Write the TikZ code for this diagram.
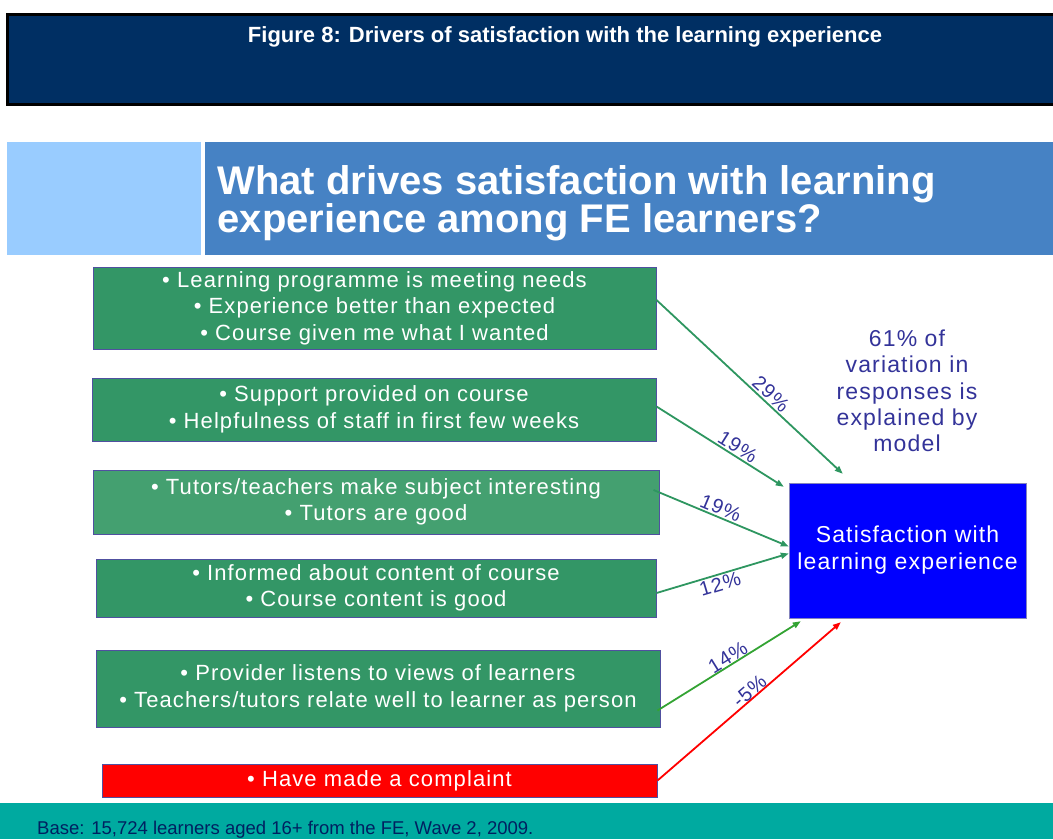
\documentclass[tikz,border=0pt]{standalone}
\usepackage{fontspec}
\setmainfont{Liberation Sans}
\newfontfamily\spacedfont[LetterSpace=5]{Liberation Sans}
\usetikzlibrary{calc,arrows.meta}
\definecolor{navy}{RGB}{0,47,99}
\definecolor{paleblue}{RGB}{153,204,255}
\definecolor{headblue}{RGB}{70,130,196}
\definecolor{drvgreen}{RGB}{51,150,102}
\definecolor{drvgreenlt}{RGB}{68,160,112}
\definecolor{boxline}{RGB}{80,80,160}
\definecolor{arrgreen}{RGB}{46,150,96}
\definecolor{pcttext}{RGB}{51,51,153}
\definecolor{satblue}{RGB}{0,0,255}
\definecolor{baseteal}{RGB}{0,170,160}
\definecolor{basetext}{RGB}{0,32,96}
\tikzset{
  drvbox/.style={draw=boxline, line width=1pt, fill=drvgreen, text=white, align=center,
    inner sep=0pt, font=\spacedfont\fontsize{22}{26.5}\selectfont},
  drvarrow/.style={draw=arrgreen, line width=1.8pt, -{Triangle[length=8pt,width=6pt]}},
  pct/.style={text=pcttext, font=\spacedfont\fontsize{20}{22}\selectfont, sloped, inner sep=1.5pt},
}

\begin{document}
\begin{tikzpicture}[x=1pt,y=-1pt]
			%%%%% START %%%%%
			\useasboundingbox (0,0) rectangle (1053,839);
			
			% banners
			\draw[line width=3pt, fill=navy] (7,14) rectangle (1060,104);
			\node[text=white, font=\bfseries\fontsize{22}{26}\selectfont] (fig) at (565,37) {Figure 8: Drivers of satisfaction with the learning experience};
			
			\fill[paleblue] (7,142) rectangle (201,255);
			\fill[headblue] (205,142) rectangle (1053,255);
			\node[anchor=west, align=left, text=white, font=\bfseries\fontsize{40}{38}\selectfont] (head) at (214,203)
			  {What drives satisfaction with learning\\experience among FE learners?};
			
			\fill[baseteal] (0,803) rectangle (1053,839);
			\node[anchor=base west, text=basetext, font=\fontsize{18.5}{20}\selectfont, inner sep=0pt] (base) at (37,834)
			  {Base: 15,724 learners aged 16+ from the FE, Wave 2, 2009.};
			
			% driver boxes
			\node[drvbox, minimum width=563pt, minimum height=82pt] (needs) at (374.5,308)
			  {• Learning programme is meeting needs\\• Experience better than expected\\• Course given me what I wanted};
			\node[drvbox, minimum width=564pt, minimum height=63pt] (support) at (374,409.5)
			  {• Support provided on course\\• Helpfulness of staff in first few weeks};
			\node[drvbox, fill=drvgreenlt, minimum width=566pt, minimum height=64pt] (tutors) at (376,502)
			  {• Tutors/teachers make subject interesting\\• Tutors are good};
			\node[drvbox, minimum width=560pt, minimum height=58pt] (content) at (376,588)
			  {• Informed about content of course\\• Course content is good};
			\node[drvbox, minimum width=564pt, minimum height=77pt] (views) at (378,688.5)
			  {• Provider listens to views of learners\\• Teachers/tutors relate well to learner as person};
			\node[drvbox, fill=red, minimum width=555pt, minimum height=33pt] (complaint) at (379.5,780.5)
			  {• Have made a complaint};
			
			% outcome
			\node[draw=boxline!70, fill=satblue, text=white, align=center, inner sep=0pt,
			  minimum width=237pt, minimum height=135pt, font=\spacedfont\fontsize{23}{27}\selectfont] (satis) at (907.5,550.5)
			  {Satisfaction with\\learning experience};
			\node[text=pcttext, align=center, font=\spacedfont\fontsize{23}{26.3}\selectfont] (model) at (907,391)
			  {61\% of\\variation in\\responses is\\explained by\\model};
			
			% paths
			\draw[drvarrow] ($(needs.east)+(0,-8)$) -- node[pct, above, pos=0.58] {29\%} ($(satis.north west)+(54,-9)$);
			\draw[drvarrow] ($(support.east)+(0,-3)$) -- node[pct, above, pos=0.6] {19\%} ($(satis.north west)+(-5,4)$);
			\draw[drvarrow] ($(tutors.east)+(-6,-12)$) -- node[pct, above, pos=0.47] {19\%} ($(satis.west)+(0,-4)$);
			\draw[drvarrow] ($(content.east)+(0,5)$) -- node[pct, below, pos=0.46] {12\%} ($(satis.west)+(0,3)$);
			\draw[drvarrow, draw=green!55!black!80] ($(views.east)+(-3,22)$) -- node[pct, above, pos=0.52, inner sep=0pt] {14\%} ($(satis.south west)+(12,3)$);
			\draw[drvarrow, draw=red] (complaint.east) -- node[pct, above, pos=0.53, inner sep=0pt] {-5\%} ($(satis.south west)+(52,4)$);
			
			%%%%% END %%%%%
\end{tikzpicture}
\end{document}
